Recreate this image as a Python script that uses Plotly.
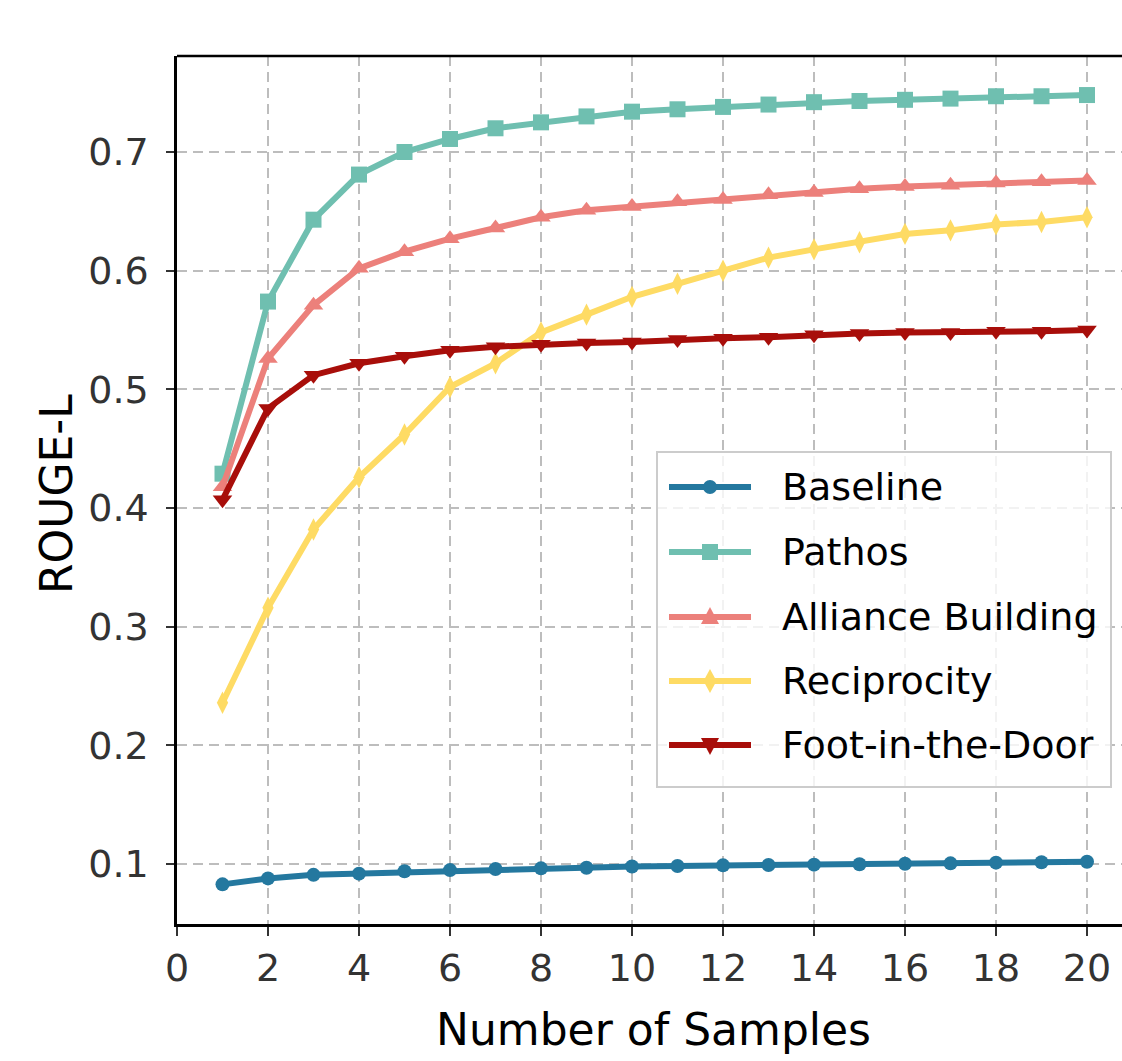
import plotly.graph_objects as go

# ROUGE-L versus number of samples for each persuasion strategy
samples = list(range(1, 21))

baseline = [0.083, 0.088, 0.091, 0.092, 0.094, 0.095, 0.096, 0.0965, 0.097, 0.098,
            0.0985, 0.099, 0.0993, 0.0996, 0.100, 0.1004, 0.1007, 0.1013, 0.1016, 0.102]
pathos = [0.429, 0.574, 0.643, 0.681, 0.700, 0.711, 0.720, 0.725, 0.730, 0.734,
          0.736, 0.738, 0.740, 0.742, 0.743, 0.744, 0.745, 0.747, 0.747, 0.748]
alliance = [0.418, 0.526, 0.571, 0.602, 0.616, 0.627, 0.636, 0.645, 0.651, 0.654,
            0.658, 0.660, 0.664, 0.666, 0.669, 0.671, 0.672, 0.674, 0.675, 0.676]
reciprocity = [0.236, 0.316, 0.382, 0.426, 0.462, 0.502, 0.522, 0.548, 0.563, 0.578,
               0.589, 0.600, 0.611, 0.618, 0.624, 0.631, 0.634, 0.639, 0.641, 0.645]
foot_in_door = [0.407, 0.484, 0.512, 0.522, 0.528, 0.533, 0.536, 0.538, 0.539, 0.540,
                0.542, 0.543, 0.544, 0.546, 0.547, 0.548, 0.548, 0.549, 0.549, 0.550]

series_names = ["Baseline", "Pathos", "Alliance Building", "Reciprocity", "Foot-in-the-Door"]
series_values = [baseline, pathos, alliance, reciprocity, foot_in_door]
colors = ["#24789F", "#6FBFB0", "#EC807B", "#FEDB64", "#A80E0A"]
symbols = ["circle", "square", "triangle-up", "diamond-tall", "triangle-down"]
marker_sizes = [14, 16, 17, 16, 17]

x_ticks = list(range(0, 21, 2))
y_ticks = [0.1, 0.2, 0.3, 0.4, 0.5, 0.6, 0.7]

FONT = "DejaVu Sans"
W, H = 1122, 1061
ML, MR, MT, MB = 177, 0, 56, 137
PW, PH = W - ML - MR, H - MT - MB
LINE_W = 6

fig = go.Figure()
for name, vals, col, sym, ms in zip(series_names, series_values, colors, symbols, marker_sizes):
    fig.add_trace(go.Scatter(
        x=samples, y=vals, name=name, mode="lines+markers",
        line=dict(color=col, width=LINE_W),
        marker=dict(symbol=sym, size=ms, color=col, line=dict(width=0)),
        showlegend=False,
    ))


def px_x(px):
    return (px - ML) / PW


def px_y(py):
    return (H - MB - py) / PH


shapes = []
annotations = []

# top spine
shapes.append(dict(type="line", xref="paper", yref="paper", x0=0, x1=1, y0=1, y1=1,
                   line=dict(color="black", width=2.5), layer="above"))

# legend frame
shapes.append(dict(type="rect", xref="paper", yref="paper",
                   x0=px_x(657), x1=px_x(1111), y0=px_y(787), y1=px_y(452),
                   fillcolor="rgba(255,255,255,0.8)",
                   line=dict(color="#cccccc", width=2), layer="above"))

row_y = [487, 552, 617, 681, 745]
line_x0, line_x1, mark_x, text_x = 669, 751, 710, 780
marker_paths = {
    "square": "M-8,-8 L8,-8 L8,8 L-8,8 Z",
    "triangle-up": "M-9,-7 L9,-7 L0,10 Z",
    "diamond-tall": "M0,12 L6.5,0 L0,-12 L-6.5,0 Z",
    "triangle-down": "M-9,7 L9,7 L0,-10 Z",
}
for name, col, sym, ry in zip(series_names, colors, symbols, row_y):
    yy = px_y(ry)
    shapes.append(dict(type="line", xref="paper", yref="paper",
                       x0=px_x(line_x0), x1=px_x(line_x1), y0=yy, y1=yy,
                       line=dict(color=col, width=LINE_W), layer="above"))
    if sym == "circle":
        shapes.append(dict(type="circle", xref="paper", yref="paper",
                           xsizemode="pixel", ysizemode="pixel",
                           xanchor=px_x(mark_x), yanchor=yy,
                           x0=-7, x1=7, y0=-7, y1=7,
                           fillcolor=col, line=dict(width=0), layer="above"))
    else:
        shapes.append(dict(type="path", xref="paper", yref="paper",
                           xsizemode="pixel", ysizemode="pixel",
                           xanchor=px_x(mark_x), yanchor=yy,
                           path=marker_paths[sym],
                           fillcolor=col, line=dict(width=0), layer="above"))
    annotations.append(dict(text=name, xref="paper", yref="paper",
                            x=px_x(text_x), y=yy, xanchor="left", yanchor="middle",
                            showarrow=False, font=dict(family=FONT, size=38, color="black")))

# axis titles
annotations.append(dict(text="Number of Samples", xref="paper", yref="paper",
                        x=px_x(653), y=px_y(1029), xanchor="center", yanchor="middle",
                        showarrow=False, font=dict(family=FONT, size=44, color="black")))
annotations.append(dict(text="ROUGE-L", xref="paper", yref="paper",
                        x=px_x(56), y=px_y(494), xanchor="center", yanchor="middle",
                        textangle=-90, showarrow=False,
                        font=dict(family=FONT, size=44, color="black")))

fig.update_layout(
    width=W, height=H,
    margin=dict(l=ML, r=MR, t=MT, b=MB, pad=0),
    paper_bgcolor="white", plot_bgcolor="white",
    font=dict(family=FONT, size=38, color="#333333"),
    shapes=shapes, annotations=annotations,
    showlegend=False,
)

fig.update_xaxes(
    range=[0, PW / 45.5], tickvals=x_ticks, ticktext=[str(t) for t in x_ticks],
    showline=True, linecolor="black", linewidth=2.5, mirror=False,
    ticks="outside", ticklen=9, tickwidth=2, tickcolor="#333333",
    tickfont=dict(family=FONT, size=38, color="#333333"),
    showgrid=True, gridcolor="#bdbdbd", gridwidth=2, griddash="10px,6px",
    zeroline=False,
)
fig.update_yaxes(
    range=[0.0496, 0.7809], tickvals=y_ticks, ticktext=[f"{t:.1f}" for t in y_ticks],
    showline=True, linecolor="black", linewidth=2.5, mirror=False,
    ticks="outside", ticklen=8, tickwidth=2, tickcolor="#333333",
    ticklabelstandoff=10,
    tickfont=dict(family=FONT, size=38, color="#333333"),
    showgrid=True, gridcolor="#bdbdbd", gridwidth=2, griddash="10px,6px",
    zeroline=False,
)

fig.write_html("out.html")
